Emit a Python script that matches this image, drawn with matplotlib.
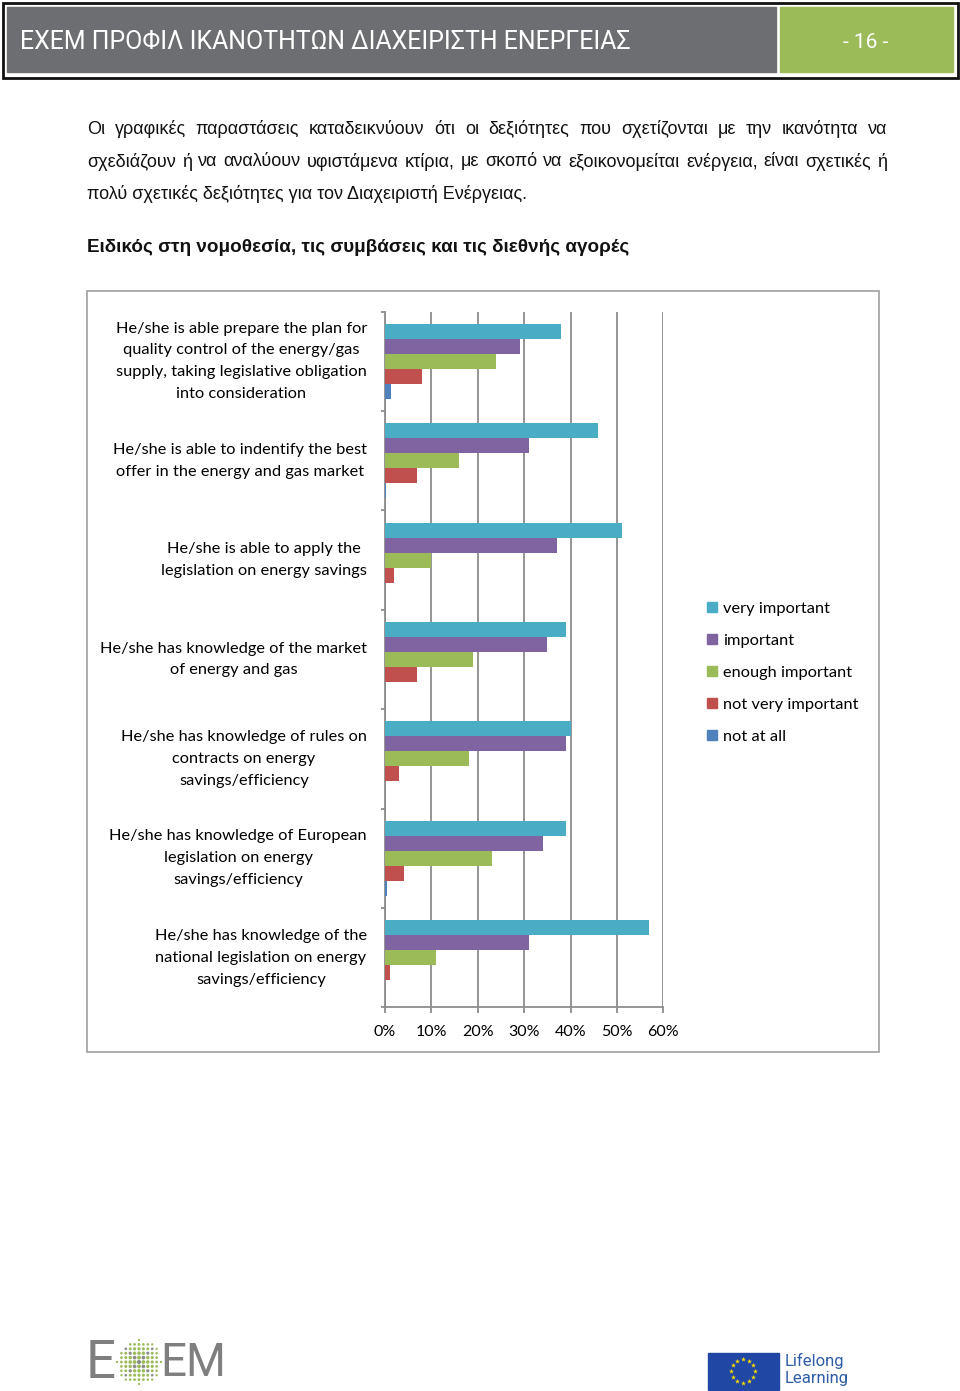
import numpy as np
import matplotlib
matplotlib.use("Agg")
import matplotlib.pyplot as plt
from matplotlib.patches import Rectangle

# page size in pixels
W, H = 960, 1391

header_title = "ΕΧΕΜ ΠΡΟΦΙΛ ΙΚΑΝΟΤΗΤΩΝ ΔΙΑΧΕΙΡΙΣΤΗ ΕΝΕΡΓΕΙΑΣ"
page_no = "- 16 -"
para_lines = [
    "Οι γραφικές παραστάσεις καταδεικνύουν ότι οι δεξιότητες που σχετίζονται με την ικανότητα να",
    "σχεδιάζουν ή να αναλύουν υφιστάμενα κτίρια, με σκοπό να εξοικονομείται ενέργεια, είναι σχετικές ή",
    "πολύ σχετικές δεξιότητες για τον Διαχειριστή Ενέργειας.",
]
heading = "Ειδικός στη νομοθεσία, τις συμβάσεις και τις διεθνής αγορές"

categories = [
    "He/she is able prepare the plan for\nquality control of the energy/gas\nsupply, taking legislative obligation\ninto consideration",
    "He/she is able to indentify the best\noffer in the energy and gas market",
    "He/she is able to apply the\nlegislation on energy savings",
    "He/she has knowledge of the market\nof energy and gas",
    "He/she has knowledge of rules on\ncontracts on energy\nsavings/efficiency",
    "He/she has knowledge of European\nlegislation on energy\nsavings/efficiency",
    "He/she has knowledge of the\nnational legislation on energy\nsavings/efficiency",
]
series_names = ["very important", "important", "enough important",
                "not very important", "not at all"]
very_important = [38, 46, 51, 39, 40, 39, 57]
important = [29, 31, 37, 35, 39, 34, 31]
enough_important = [24, 16, 10, 19, 18, 23, 11]
not_very_important = [8, 7, 2, 7, 3, 4, 1]
not_at_all = [1.3, 0.3, 0, 0, 0, 0.4, 0]
colors = ["#4BACC6", "#8064A2", "#9BBB59", "#C0504D", "#4F81BD"]
xticks = [0, 10, 20, 30, 40, 50, 60]

#===========================#

fig = plt.figure(figsize=(W / 100, H / 100), dpi=100)
bg = fig.add_axes([0, 0, 1, 1], zorder=0)
bg.set_xlim(0, W)
bg.set_ylim(H, 0)
bg.axis("off")
r = fig.canvas.get_renderer()


def fit(t, width):
    w = t.get_window_extent(r).width
    t.set_fontsize(t.get_fontsize() * width / w)


def justify(line, x0, x1, y, **kw):
    words = line.split()
    texts = [bg.text(0, y, w, **kw) for w in words]
    widths = [t.get_window_extent(r).width for t in texts]
    gap = (x1 - x0 - sum(widths)) / (len(words) - 1)
    x = x0
    for t, w in zip(texts, widths):
        t.set_x(x)
        x += w + gap


# header
bg.add_patch(Rectangle((2.5, 2.5), 955, 75, fill=False, ec="#111111", lw=2))
bg.add_patch(Rectangle((7, 7), 769, 65, color="#6D6E71"))
bg.add_patch(Rectangle((780, 7), 173, 65, color="#9BBB59"))
t = bg.text(20, 42, header_title, color="white", fontsize=20, va="center",
            family="Roboto")
fit(t, 611)
bg.text(866, 42, page_no, color="white", fontsize=15, va="center", ha="center",
        family="Roboto")

# paragraph
pkw = dict(family="Liberation Sans", fontsize=12, va="center", color="#111111")
t = bg.text(87, 194, para_lines[2], **pkw)
fit(t, 440)
pkw["fontsize"] = t.get_fontsize()
justify(para_lines[0], 87, 887, 129, **pkw)
justify(para_lines[1], 87, 887, 162, **pkw)
t = bg.text(87, 248, heading, family="Liberation Sans", fontweight="bold",
            fontsize=12, va="center", color="#111111")
fit(t, 538)

# chart frame
bg.add_patch(Rectangle((87, 291), 792, 761, fill=False, ec="#A0A0A0", lw=1.2))

# bar chart
ax_w = 278.4
ax = fig.add_axes([385 / W, 1 - 1007.3 / H, ax_w / W, 695.6 / H], zorder=2)
data = [very_important, important, enough_important, not_very_important, not_at_all]
n = len(categories)
h = 0.151
y = np.arange(n) + 0.5
for j, (vals, c, name) in enumerate(zip(data, colors, series_names)):
    ax.barh(y + (j - 2) * h, vals, height=h, color=c, label=name, zorder=3)

ax.set_xlim(0, 60)
ax.set_ylim(n, 0)
ax.set_xticks(xticks)
ax.set_xticklabels([f"{v}%" for v in xticks], family="Lato")
ax.grid(axis="x", color="#8C8C8C", lw=1.3, zorder=1)
for s in ["top", "right"]:
    ax.spines[s].set_visible(False)
for s in ["left", "bottom"]:
    ax.spines[s].set_color("#8C8C8C")
    ax.spines[s].set_linewidth(1.3)
ax.set_yticks(np.arange(n + 1))
ax.set_yticklabels([])
ax.tick_params(axis="y", length=3, width=1.3, color="#8C8C8C")
ax.tick_params(axis="x", length=4, width=1.3, color="#8C8C8C", pad=9, labelsize=11.5)

# category labels, centred lines, right edge 18 px left of the axis
for yi, lab in zip(y, categories):
    ax.text(-18 / ax_w, yi, lab, transform=ax.get_yaxis_transform(),
            ha="right", va="center", multialignment="center",
            linespacing=1.72, family="Lato", fontsize=11.8)

handles = [Rectangle((0, 0), 1, 1, color=c) for c in colors]
fig.legend(handles, series_names, loc="upper left",
           bbox_to_anchor=(692 / W, 1 - 587 / H), frameon=False,
           handlelength=0.6, handleheight=0.6, handletextpad=0.4,
           labelspacing=1.1, prop={"family": "Lato", "size": 11.8})

# footer logos
ekw = dict(family="Roboto", color="#7F7F7F", fontsize=38, va="center")
bg.text(86, 1363, "E", **ekw)
t = bg.text(160, 1363, "EM", **ekw)
fit(t, 66)
cx, cy, rad = 139, 1362, 22
gx, gy = np.meshgrid(np.arange(-rad, rad + 1, 4.4), np.arange(-rad, rad + 1, 4.4))
gx, gy = gx.ravel(), gy.ravel()
inside = gx ** 2 + gy ** 2 <= rad ** 2
gx, gy = gx[inside], gy[inside]
diag = np.abs(np.abs(gx) - np.abs(gy)) < 4
sz = 9 * (1 - np.sqrt(gx ** 2 + gy ** 2) / rad * 0.7)
bg.scatter(cx + gx[~diag], cy + gy[~diag], s=sz[~diag], color="#9BBB59", lw=0)
bg.scatter(cx + gx[diag], cy + gy[diag], s=sz[diag], color="#8C8C8C", lw=0)

bg.add_patch(Rectangle((708, 1353), 71, 37, color="#1F47A3"))
ang = np.linspace(0, 2 * np.pi, 12, endpoint=False)
bg.scatter(743 + 12 * np.cos(ang), 1371 + 12 * np.sin(ang), marker="*",
           s=14, color="#FFDD00", lw=0)
bg.text(785, 1361, "Lifelong", color="#2F5DA8", fontsize=12, va="center",
        family="Roboto")
bg.text(785, 1379, "Learning", color="#2F5DA8", fontsize=12, va="center",
        family="Roboto")

plt.savefig("out.png", dpi=100)
